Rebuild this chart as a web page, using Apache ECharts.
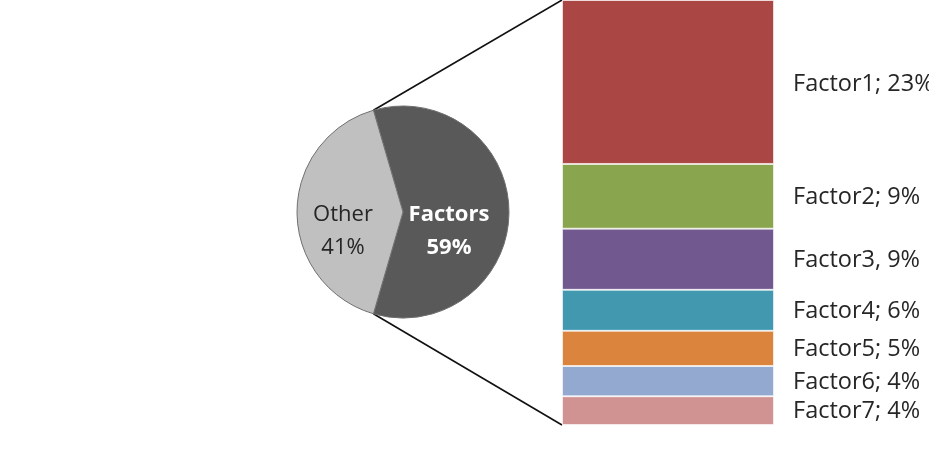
<!DOCTYPE html>
<html>
<head>
<meta charset="utf-8">
<script src="https://cdn.jsdelivr.net/npm/echarts@6/dist/echarts.min.js"></script>
<style>
  html, body { margin: 0; padding: 0; background: #fff; }
  #main { width: 929px; height: 461px; }
</style>
</head>
<body>
<div id="main"></div>
<script>
// pie: share of factors vs other
const pieNames = ['Factors', 'Other'];
const pieValues = [59, 41];
const pieColors = ['#595959', '#c0c0c0'];

// breakdown bar
const factorNames = ['Factor1', 'Factor2', 'Factor3', 'Factor4', 'Factor5', 'Factor6', 'Factor7'];
const factorValues = [22.8, 9.0, 8.5, 5.7, 4.9, 4.2, 4.0];
const factorLabels = ['Factor1; 23%', 'Factor2; 9%', 'Factor3, 9%', 'Factor4; 6%', 'Factor5; 5%', 'Factor6; 4%', 'Factor7; 4%'];
const factorColors = ['#aa4643', '#89a54e', '#71588f', '#4198af', '#db843d', '#93a9cf', '#d19392'];

const font = '"Open Sans", sans-serif';
const pieCenter = [403, 212];
const pieRadius = 106;

const total = factorValues.reduce((a, b) => a + b, 0);
// Factors slice centred on 3 o'clock
const startAngle = pieValues[0] / (pieValues[0] + pieValues[1]) * 360 / 2;

const myChart = echarts.init(document.getElementById('main'));

// stack from bottom (Factor7) to top (Factor1)
let barSeries = [];
for (let i = factorNames.length - 1; i >= 0; i--) {
  barSeries.push({
    name: factorNames[i],
    type: 'bar',
    stack: 'f',
    barWidth: '100%',
    data: [factorValues[i]],
    itemStyle: { color: factorColors[i], borderColor: 'rgba(255,255,255,0.6)', borderWidth: 1 },
    label: {
      show: true,
      position: 'right',
      distance: 19,
      offset: [0, i === 0 ? 2 : 1],
      formatter: factorLabels[i],
      fontFamily: font,
      fontSize: 23.5,
      color: '#262626'
    },
    silent: true
  });
}

let option = {
  animation: false,
  grid: { left: 562, right: 155, top: 0, bottom: 36 },
  xAxis: { type: 'category', data: [''], show: false },
  yAxis: { type: 'value', min: 0, max: total, show: false },
  series: [
    {
      type: 'pie',
      center: pieCenter,
      radius: pieRadius,
      startAngle: startAngle,
      clockwise: true,
      silent: true,
      data: pieNames.map((n, i) => ({
        name: n,
        value: pieValues[i],
        itemStyle: { color: pieColors[i] },
        label: i === 0
          ? { color: '#ffffff', fontWeight: 'bold', offset: [-10, 19] }
          : { color: '#262626', offset: [-4, 19] }
      })),
      itemStyle: { borderColor: '#6f6f6f', borderWidth: 1 },
      label: {
        show: true,
        position: 'inside',
        formatter: p => p.name + '\n' + p.value + '%',
        fontFamily: font,
        fontSize: 22,
        lineHeight: 33
      },
      labelLine: { show: false }
    }
  ].concat(barSeries)
};

myChart.setOption(option);

// connector lines from the pie slice edges to the bar corners
const rad = startAngle * Math.PI / 180;
const px = pieCenter[0] + pieRadius * Math.cos(rad);
const pyTop = pieCenter[1] - pieRadius * Math.sin(rad);
const pyBot = pieCenter[1] + pieRadius * Math.sin(rad);
const barTop = myChart.convertToPixel({ gridIndex: 0 }, [0, total]);
const barBot = myChart.convertToPixel({ gridIndex: 0 }, [0, 0]);
const barLeft = 562;

myChart.setOption({
  graphic: [
    {
      type: 'line',
      shape: { x1: px, y1: pyTop, x2: barLeft, y2: barTop[1] },
      style: { stroke: '#111', lineWidth: 1.6 },
      silent: true
    },
    {
      type: 'line',
      shape: { x1: px, y1: pyBot, x2: barLeft, y2: barBot[1] },
      style: { stroke: '#111', lineWidth: 1.6 },
      silent: true
    }
  ]
});
</script>
</body>
</html>
